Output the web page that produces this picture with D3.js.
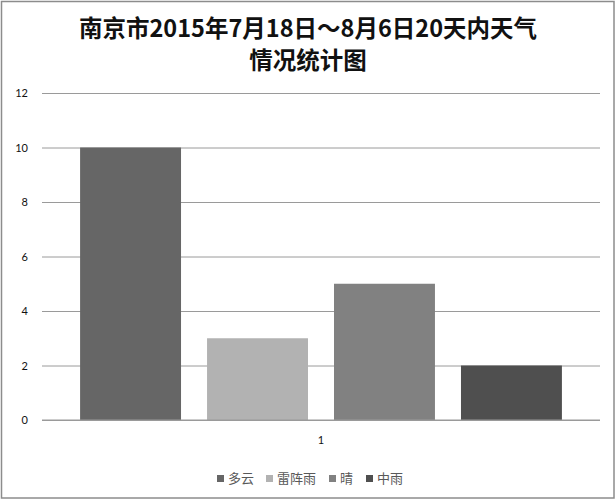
<!DOCTYPE html>
<html>
<head>
<meta charset="utf-8">
<script src="https://cdn.jsdelivr.net/npm/d3@7"></script>
<style>
  body { margin: 0; background: #fff; }
  text { font-family: "Noto Sans CJK SC", "Noto Sans", sans-serif; }
</style>
</head>
<body>
<div id="chart"></div>
<script>
let titleLines = ['南京市2015年7月18日～8月6日20天内天气', '情况统计图']
let categories = ['1']
let seriesNames = ['多云', '雷阵雨', '晴', '中雨']
let seriesValues = [10, 3, 5, 2]
let seriesColors = ['#666666', '#b2b2b2', '#818181', '#4f4f4f']
let yTicks = [0, 2, 4, 6, 8, 10, 12]

let width = 616
let height = 500

let svg = d3.select('#chart').append('svg')
  .attr('width', width)
  .attr('height', height)

// outer frame
svg.append('rect')
  .attr('x', 1.5).attr('y', 1.5)
  .attr('width', width - 3.5).attr('height', height - 3.5)
  .attr('fill', '#fff')
  .attr('stroke', '#8c8c8c')
  .attr('stroke-width', 1.5)

svg.selectAll('.title')
  .data(titleLines)
  .enter().append('text')
  .attr('class', 'title')
  .attr('x', 308)
  .attr('y', (d, i) => 37 + i * 32)
  .attr('text-anchor', 'middle')
  .attr('font-size', 23.5)
  .attr('font-weight', 'bold')
  .attr('fill', '#111')
  .text(d => d)

let y = d3.scaleLinear().domain([0, 12]).range([420, 93])
let x0 = d3.scaleBand().domain(categories).range([42, 600])
let x1 = d3.scaleBand().domain(seriesNames)
  .range([0, x0.bandwidth()])
  .paddingInner(0.205)
  .paddingOuter(0.3)

// gridlines
svg.append('g')
  .attr('transform', 'translate(42,0)')
  .call(d3.axisLeft(y).tickValues(yTicks).tickSize(-(600 - 42)).tickFormat(''))
  .call(g => g.select('.domain').remove())
  .call(g => g.selectAll('line').attr('stroke', '#9a9a9a').attr('stroke-width', 1))

// y labels
svg.append('g')
  .attr('transform', 'translate(28,0)')
  .call(d3.axisLeft(y).tickValues(yTicks).tickSize(0).tickPadding(0))
  .call(g => g.select('.domain').remove())
  .call(g => g.selectAll('text')
    .attr('font-size', 11)
    .attr('fill', '#111')
    .style('font-family', 'Lato, "Noto Sans", sans-serif'))

// bars
let groups = svg.selectAll('.cat')
  .data(categories)
  .enter().append('g')
  .attr('transform', d => 'translate(' + x0(d) + ',0)')

groups.selectAll('rect')
  .data(seriesNames.map((name, i) => ({ name: name, value: seriesValues[i], color: seriesColors[i] })))
  .enter().append('rect')
  .attr('x', d => x1(d.name))
  .attr('y', d => y(d.value))
  .attr('width', x1.bandwidth())
  .attr('height', d => y(0) - y(d.value))
  .attr('fill', d => d.color)

// baseline on top
svg.append('line')
  .attr('x1', 42).attr('x2', 600)
  .attr('y1', y(0)).attr('y2', y(0))
  .attr('stroke', '#9a9a9a')

// category axis label
svg.append('g')
  .attr('transform', 'translate(0,' + y(0) + ')')
  .call(d3.axisBottom(x0).tickSize(0).tickPadding(16))
  .call(g => g.select('.domain').remove())
  .call(g => g.selectAll('text')
    .attr('font-size', 11)
    .attr('fill', '#111')
    .style('font-family', 'Lato, "Noto Sans", sans-serif'))

// legend
let legendX = [217, 266, 329, 366]
let legend = svg.selectAll('.legend')
  .data(seriesNames)
  .enter().append('g')
  .attr('transform', (d, i) => 'translate(' + legendX[i] + ',475)')
legend.append('rect')
  .attr('width', 7).attr('height', 7)
  .attr('fill', (d, i) => seriesColors[i])
legend.append('text')
  .attr('x', 11)
  .attr('y', 8)
  .attr('font-size', 13)
  .attr('fill', '#595959')
  .text(d => d)
</script>
</body>
</html>
